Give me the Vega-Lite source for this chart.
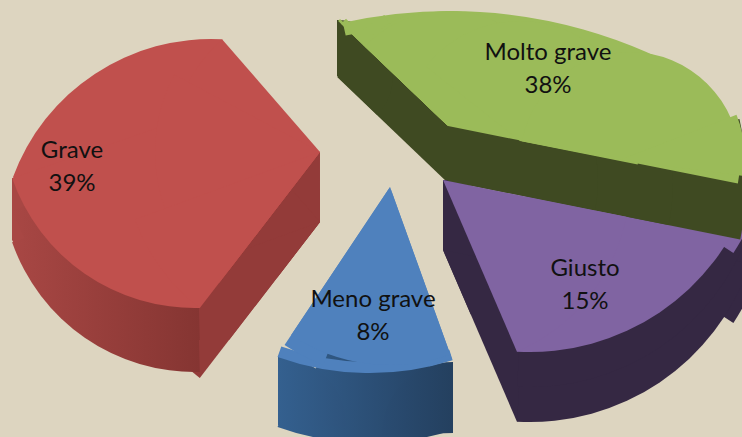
{"$schema":"https://vega.github.io/schema/vega-lite/v6.json","width":742,"height":437,"autosize":{"type":"none"},"padding":0,"background":"#ddd5c0","view":{"stroke":null},
"config":{"view":{"stroke":null},"text":{"font":"Lato","fontSize":24,"fill":"#111111"}},
"data":{"values":[{"label":"Molto grave","pct":"38%","base":0,"value":38},{"label":"Giusto","pct":"15%","base":0,"value":15},{"label":"Meno grave","pct":"8%","base":0,"value":8},{"label":"Grave","pct":"39%","base":0,"value":39}]},
"resolve":{"scale":{"theta":"independent"}},
"layer":[
{"transform":[{"filter":"datum.label==='Molto grave'"}],"resolve":{"scale":{"theta":"independent"}},"layer":[
{"mark":{"type":"arc","radius":153,"fill":"#3f4a22","xOffset":77,"yOffset":-35.5},"encoding":{"theta":{"field":"base","type":"quantitative","scale":{"domain":[0,38],"range":[-0.808,0]}},"theta2":{"field":"value"}}},
{"mark":{"type":"arc","radius":56,"fill":"#3f4a22","xOffset":-34,"yOffset":-142.5},"encoding":{"theta":{"field":"base","type":"quantitative","scale":{"domain":[0,38],"range":[0,2.34]}},"theta2":{"field":"value"}}}
]},
{"transform":[{"filter":"datum.label==='Giusto'"}],"resolve":{"scale":{"theta":"independent"}},"layer":[
{"mark":{"type":"arc","radius":70,"fill":"#352843","xOffset":72,"yOffset":31.5},"encoding":{"theta":{"field":"base","type":"quantitative","scale":{"domain":[0,15],"range":[0,2.735]}},"theta2":{"field":"value"}}},
{"mark":{"type":"arc","radius":187,"fill":"#352843","xOffset":72,"yOffset":31.5},"encoding":{"theta":{"field":"base","type":"quantitative","scale":{"domain":[0,15],"range":[1.768,2.735]}},"theta2":{"field":"value"}}},
{"mark":{"type":"arc","radius":243,"fill":"#352843","xOffset":159,"yOffset":-28.5},"encoding":{"theta":{"field":"base","type":"quantitative","scale":{"domain":[0,15],"range":[1.9,2.15]}},"theta2":{"field":"value"}}},
{"mark":{"type":"arc","radius":243,"fill":"#352843","xOffset":159,"yOffset":-63.5},"encoding":{"theta":{"field":"base","type":"quantitative","scale":{"domain":[0,15],"range":[1.9,2.15]}},"theta2":{"field":"value"}}},
{"mark":{"type":"arc","radius":232,"fill":"#352843","xOffset":159,"yOffset":-28.5},"encoding":{"theta":{"field":"base","type":"quantitative","scale":{"domain":[0,15],"range":[1.9,3.197]}},"theta2":{"field":"value"}}},
{"mark":{"type":"arc","radius":232,"fill":"#352843","xOffset":159,"yOffset":-63.5},"encoding":{"theta":{"field":"base","type":"quantitative","scale":{"domain":[0,15],"range":[1.9,3.197]}},"theta2":{"field":"value"}}},
{"mark":{"type":"arc","radius":243,"fill":"#8064a2","xOffset":159,"yOffset":-98.5},"encoding":{"theta":{"field":"base","type":"quantitative","scale":{"domain":[0,15],"range":[1.9,2.15]}},"theta2":{"field":"value"}}},
{"mark":{"type":"arc","radius":232,"fill":"#8064a2","xOffset":159,"yOffset":-98.5},"encoding":{"theta":{"field":"base","type":"quantitative","scale":{"domain":[0,15],"range":[1.9,3.197]}},"theta2":{"field":"value"}}}
]},
{"transform":[{"filter":"datum.label==='Molto grave'"}],"resolve":{"scale":{"theta":"independent"}},"layer":[
{"mark":{"type":"arc","radius":298,"fill":"#3f4a22","xOffset":77,"yOffset":-37.5},"encoding":{"theta":{"field":"base","type":"quantitative","scale":{"domain":[0,38],"range":[1.361,1.768]}},"theta2":{"field":"value"}}},
{"mark":{"type":"arc","radius":225,"fill":"#3f4a22","xOffset":77,"yOffset":-37.5},"encoding":{"theta":{"field":"base","type":"quantitative","scale":{"domain":[0,38],"range":[1.047,1.768]}},"theta2":{"field":"value"}}},
{"mark":{"type":"arc","radius":150,"fill":"#3f4a22","xOffset":77,"yOffset":-37.5},"encoding":{"theta":{"field":"base","type":"quantitative","scale":{"domain":[0,38],"range":[0,1.768]}},"theta2":{"field":"value"}}},
{"mark":{"type":"arc","outerRadius":491,"innerRadius":478,"fill":"#9bbb59","xOffset":79,"yOffset":283.5},"encoding":{"theta":{"field":"base","type":"quantitative","scale":{"domain":[0,38],"range":[-0.22,0]}},"theta2":{"field":"value"}}},
{"mark":{"type":"arc","outerRadius":491,"innerRadius":429,"fill":"#9bbb59","xOffset":79,"yOffset":283.5},"encoding":{"theta":{"field":"base","type":"quantitative","scale":{"domain":[0,38],"range":[0,0.55]}},"theta2":{"field":"value"}}},
{"mark":{"type":"arc","radius":152,"fill":"#9bbb59","xOffset":77,"yOffset":-92.5},"encoding":{"theta":{"field":"base","type":"quantitative","scale":{"domain":[0,38],"range":[-0.808,-0.79]}},"theta2":{"field":"value"}}},
{"mark":{"type":"arc","radius":148,"fill":"#9bbb59","xOffset":77,"yOffset":-92.5},"encoding":{"theta":{"field":"base","type":"quantitative","scale":{"domain":[0,38],"range":[-0.808,-0.76]}},"theta2":{"field":"value"}}},
{"mark":{"type":"arc","radius":140,"fill":"#9bbb59","xOffset":77,"yOffset":-92.5},"encoding":{"theta":{"field":"base","type":"quantitative","scale":{"domain":[0,38],"range":[-0.808,-0.72]}},"theta2":{"field":"value"}}},
{"mark":{"type":"arc","radius":128,"fill":"#9bbb59","xOffset":77,"yOffset":-92.5},"encoding":{"theta":{"field":"base","type":"quantitative","scale":{"domain":[0,38],"range":[-0.808,-0.52]}},"theta2":{"field":"value"}}},
{"mark":{"type":"arc","radius":118,"fill":"#9bbb59","xOffset":77,"yOffset":-92.5},"encoding":{"theta":{"field":"base","type":"quantitative","scale":{"domain":[0,38],"range":[-0.808,-0.3]}},"theta2":{"field":"value"}}},
{"mark":{"type":"arc","radius":115,"fill":"#9bbb59","xOffset":77,"yOffset":-92.5},"encoding":{"theta":{"field":"base","type":"quantitative","scale":{"domain":[0,38],"range":[-0.808,1.768]}},"theta2":{"field":"value"}}},
{"mark":{"type":"arc","radius":120,"fill":"#9bbb59","xOffset":149,"yOffset":-77.5},"encoding":{"theta":{"field":"base","type":"quantitative","scale":{"domain":[0,38],"range":[-0.9,1.768]}},"theta2":{"field":"value"}}},
{"mark":{"type":"arc","radius":110,"fill":"#9bbb59","xOffset":259,"yOffset":-56.5},"encoding":{"theta":{"field":"base","type":"quantitative","scale":{"domain":[0,38],"range":[-1.38,1.768]}},"theta2":{"field":"value"}}},
{"mark":{"type":"arc","radius":125,"fill":"#9bbb59","xOffset":249,"yOffset":-58.5},"encoding":{"theta":{"field":"base","type":"quantitative","scale":{"domain":[0,38],"range":[1.2,1.7]}},"theta2":{"field":"value"}}}
]},
{"transform":[{"filter":"datum.label==='Giusto'"}],"resolve":{"scale":{"theta":"independent"}},"layer":[
{"mark":{"type":"arc","radius":187,"fill":"#8064a2","xOffset":72,"yOffset":-38.5},"encoding":{"theta":{"field":"base","type":"quantitative","scale":{"domain":[0,15],"range":[1.768,2.735]}},"theta2":{"field":"value"}}}
]},
{"transform":[{"filter":"datum.label==='Meno grave'"}],"resolve":{"scale":{"theta":"independent"}},"layer":[
{"mark":{"type":"arc","radius":178,"fill":{"gradient":"linear","stops":[{"offset":0,"color":"#335e8c"},{"offset":1,"color":"#244060"}]},"xOffset":19,"yOffset":38.5},"encoding":{"theta":{"field":"base","type":"quantitative","scale":{"domain":[0,8],"range":[2.796,3.73]}},"theta2":{"field":"value"}}},
{"mark":{"type":"arc","outerRadius":273,"innerRadius":240,"fill":{"gradient":"linear","stops":[{"offset":0,"color":"#34608f"},{"offset":1,"color":"#24405f"}]},"xOffset":-1,"yOffset":-48.5},"encoding":{"theta":{"field":"base","type":"quantitative","scale":{"domain":[0,8],"range":[2.834,3.487]}},"theta2":{"field":"value"}}},
{"mark":{"type":"arc","radius":68,"fill":{"gradient":"linear","stops":[{"offset":0,"color":"#34608f"},{"offset":1,"color":"#2e537c"}]},"xOffset":-93,"yOffset":206.5},"encoding":{"theta":{"field":"base","type":"quantitative","scale":{"domain":[0,8],"range":[0,1.6]}},"theta2":{"field":"value"}}},
{"mark":{"type":"arc","radius":71,"fill":{"gradient":"linear","stops":[{"offset":0,"color":"#2a4c72"},{"offset":1,"color":"#24405f"}]},"xOffset":82,"yOffset":214.5},"encoding":{"theta":{"field":"base","type":"quantitative","scale":{"domain":[0,8],"range":[-1.6,0]}},"theta2":{"field":"value"}}},
{"mark":{"type":"arc","outerRadius":273,"innerRadius":262,"fill":"#4f81bd","xOffset":-1,"yOffset":-118.5},"encoding":{"theta":{"field":"base","type":"quantitative","scale":{"domain":[0,8],"range":[2.834,3.487]}},"theta2":{"field":"value"}}},
{"mark":{"type":"arc","radius":190,"fill":"#4f81bd","xOffset":19,"yOffset":-31.5},"encoding":{"theta":{"field":"base","type":"quantitative","scale":{"domain":[0,8],"range":[3.5,3.73]}},"theta2":{"field":"value"}}},
{"mark":{"type":"arc","radius":182,"fill":"#4f81bd","xOffset":19,"yOffset":-31.5},"encoding":{"theta":{"field":"base","type":"quantitative","scale":{"domain":[0,8],"range":[2.796,2.9]}},"theta2":{"field":"value"}}},
{"mark":{"type":"arc","radius":178,"fill":"#4f81bd","xOffset":19,"yOffset":-31.5},"encoding":{"theta":{"field":"base","type":"quantitative","scale":{"domain":[0,8],"range":[2.796,3.73]}},"theta2":{"field":"value"}}}
]},
{"transform":[{"filter":"datum.label==='Grave'"}],"resolve":{"scale":{"theta":"independent"}},"layer":[
{"mark":{"type":"arc","radius":70,"fill":"#933b39","xOffset":-51,"yOffset":3.5},"encoding":{"theta":{"field":"base","type":"quantitative","scale":{"domain":[0,39],"range":[3.798,6.283]}},"theta2":{"field":"value"}}},
{"mark":{"type":"arc","radius":149,"fill":"#933b39","xOffset":-51,"yOffset":3.5},"encoding":{"theta":{"field":"base","type":"quantitative","scale":{"domain":[0,39],"range":[3.798,5.568]}},"theta2":{"field":"value"}}},
{"mark":{"type":"arc","radius":197,"fill":"#933b39","xOffset":-51,"yOffset":3.5},"encoding":{"theta":{"field":"base","type":"quantitative","scale":{"domain":[0,39],"range":[3.798,4.363]}},"theta2":{"field":"value"}}},
{"mark":{"type":"arc","radius":62,"fill":"#a84744","xOffset":-359,"yOffset":21.5},"encoding":{"theta":{"field":"base","type":"quantitative","scale":{"domain":[0,39],"range":[0,2.6]}},"theta2":{"field":"value"}}},
{"mark":{"type":"arc","radius":193,"fill":{"gradient":"linear","stops":[{"offset":0,"color":"#a84744"},{"offset":1,"color":"#853532"}]},"xOffset":-176.5,"yOffset":-39.5},"encoding":{"theta":{"field":"base","type":"quantitative","scale":{"domain":[0,39],"range":[3.114,4.379]}},"theta2":{"field":"value"}}},
{"mark":{"type":"arc","radius":193,"fill":{"gradient":"linear","stops":[{"offset":0,"color":"#a84744"},{"offset":1,"color":"#853532"}]},"xOffset":-176.5,"yOffset":-71.5},"encoding":{"theta":{"field":"base","type":"quantitative","scale":{"domain":[0,39],"range":[3.114,4.379]}},"theta2":{"field":"value"}}},
{"mark":{"type":"arc","radius":211,"fill":"#c0504d","xOffset":-160,"yOffset":31.5},"encoding":{"theta":{"field":"base","type":"quantitative","scale":{"domain":[0,39],"range":[5.063,6.337]}},"theta2":{"field":"value"}}},
{"mark":{"type":"arc","radius":193,"fill":"#c0504d","xOffset":-176.5,"yOffset":-103.5},"encoding":{"theta":{"field":"base","type":"quantitative","scale":{"domain":[0,39],"range":[3.114,4.379]}},"theta2":{"field":"value"}}},
{"mark":{"type":"arc","radius":149,"fill":"#c0504d","xOffset":-51,"yOffset":-66.5},"encoding":{"theta":{"field":"base","type":"quantitative","scale":{"domain":[0,39],"range":[3.798,5.568]}},"theta2":{"field":"value"}}},
{"mark":{"type":"arc","radius":165,"fill":"#c0504d","xOffset":-51,"yOffset":-66.5},"encoding":{"theta":{"field":"base","type":"quantitative","scale":{"domain":[0,39],"range":[3.798,5.2]}},"theta2":{"field":"value"}}},
{"mark":{"type":"arc","radius":197,"fill":"#c0504d","xOffset":-51,"yOffset":-66.5},"encoding":{"theta":{"field":"base","type":"quantitative","scale":{"domain":[0,39],"range":[3.798,4.363]}},"theta2":{"field":"value"}}}
]},
{"transform":[{"filter":"datum.label==='Molto grave'"}],"layer":[
{"mark":{"type":"text","xOffset":177,"yOffset":-165.5},"encoding":{"text":{"field":"label"}}},
{"mark":{"type":"text","xOffset":177,"yOffset":-132.5},"encoding":{"text":{"field":"pct"}}}]},
{"transform":[{"filter":"datum.label==='Giusto'"}],"layer":[
{"mark":{"type":"text","xOffset":214,"yOffset":50.5},"encoding":{"text":{"field":"label"}}},
{"mark":{"type":"text","xOffset":214,"yOffset":83.5},"encoding":{"text":{"field":"pct"}}}]},
{"transform":[{"filter":"datum.label==='Meno grave'"}],"layer":[
{"mark":{"type":"text","xOffset":2,"yOffset":81.5},"encoding":{"text":{"field":"label"}}},
{"mark":{"type":"text","xOffset":2,"yOffset":114.5},"encoding":{"text":{"field":"pct"}}}]},
{"transform":[{"filter":"datum.label==='Grave'"}],"layer":[
{"mark":{"type":"text","xOffset":-299,"yOffset":-68},"encoding":{"text":{"field":"label"}}},
{"mark":{"type":"text","xOffset":-299,"yOffset":-35},"encoding":{"text":{"field":"pct"}}}]}
]}
